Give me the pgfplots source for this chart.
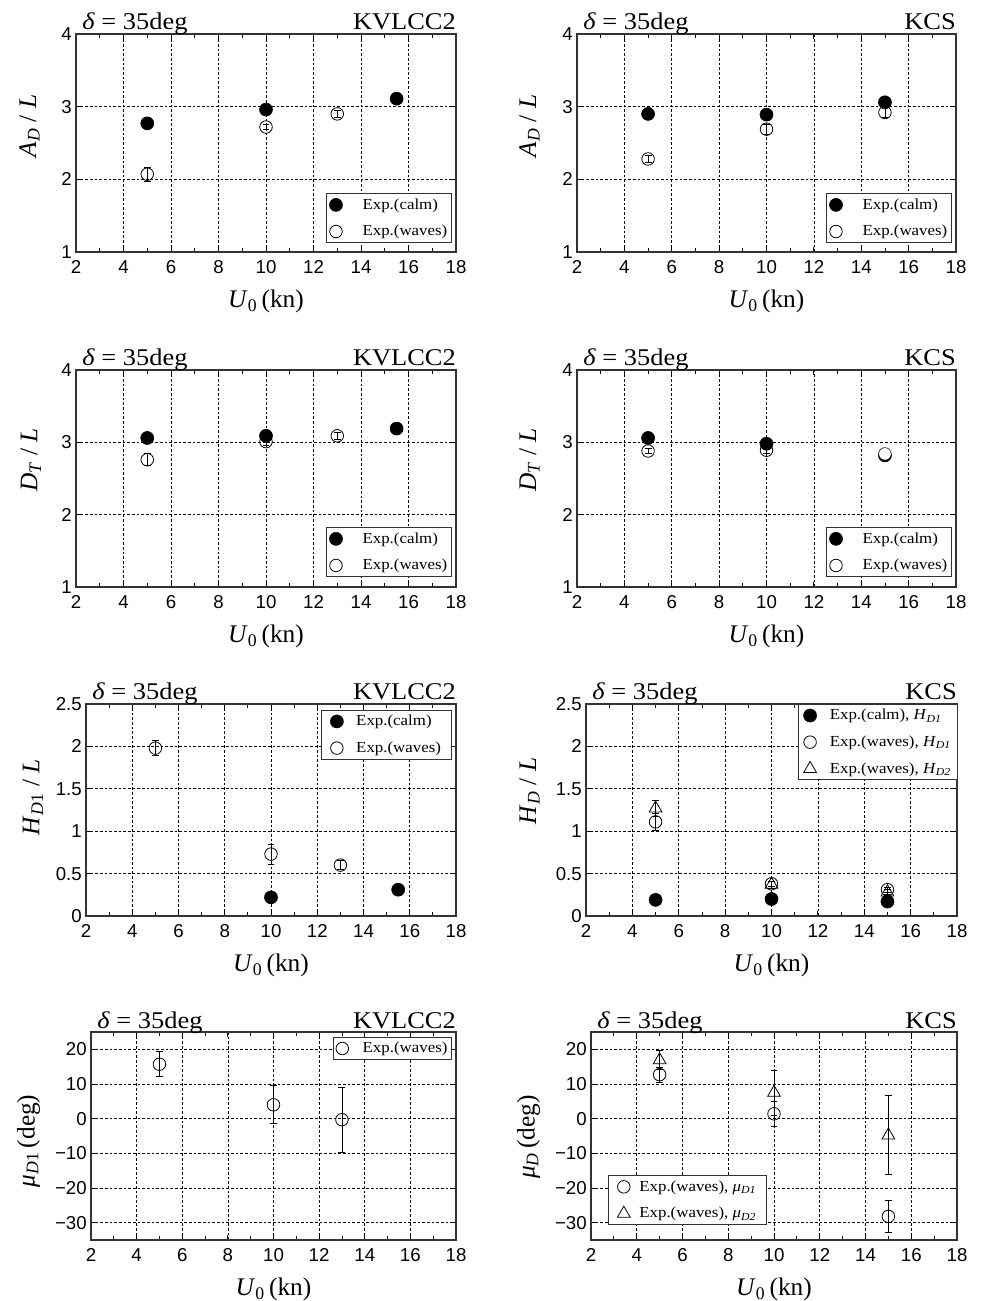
\documentclass[border=0pt]{standalone}
\usepackage{fontspec}
\setmainfont{Liberation Serif}
\setsansfont{Liberation Sans}
\newfontfamily\wideserif{Liberation Serif}[FakeStretch=1.1]
\usepackage{pgfplots}
\pgfplotsset{compat=1.18}

\newcommand\tickfont{\sffamily\fontsize{14}{16}\selectfont}
\newcommand\titfont{\wideserif\fontsize{18}{21}\selectfont}
\newcommand\labfont{\rmfamily\fontsize{19}{23}\selectfont}
\newcommand\legfont{\wideserif\fontsize{11.5}{13}\selectfont}

\pgfplotsset{
  only mark legend/.style={legend image code/.code={\draw[##1] plot coordinates {(0pt,0pt)};}},
  leg/.style n args={4}{legend style={at={(#1,#2)}, anchor=#3, inner xsep=#4}},
  panel/.style={
    scale only axis, clip=false, anchor=south west,
    xmin=2, xmax=18, xtick={2,4,...,18}, minor x tick num=1,
    grid=major, major grid style={black, line width=0.5pt, dash pattern=on 2pt off 1.5pt},
    axis line style={black!80, line width=0.9pt},
    major tick style={black, line width=0.6pt}, minor tick style={black, line width=0.6pt},
    major tick length=4pt, minor tick length=3pt,
    tick label style={font=\tickfont},
    /pgf/number format/assume math mode=true,
    xticklabel style={inner sep=0pt, yshift=-6pt},
    yticklabel style={inner sep=0pt, xshift=-3pt},
    xlabel={\textit{U}\textsubscript{0}\,(kn)},
    xlabel style={font=\labfont, at={(rel axis cs:0.5,0)}, anchor=base, inner sep=0pt, yshift=-41.5pt},
    ylabel style={font=\labfont, inner sep=0pt, anchor=south},
    legend style={font=\legfont, draw=black!80, line width=0.8pt, fill=white, inner ysep=2.5pt, row sep=8.5pt, column sep=14pt, nodes={inner sep=1pt}},
    legend cell align=left,
  },
  calm/.style={only marks, mark=*, mark size=4.9pt, mark options={draw=black, fill=black, line width=0.4pt}},
  waves/.style={only marks, mark=o, mark size=4.7pt, mark options={draw=black, line width=0.6pt}},
  tri/.style={only marks, mark=triangle, mark size=5.5pt, mark options={draw=black, line width=0.6pt}},
  ebar/.style={forget plot, only marks, mark=*, mark size=0pt, mark options={draw=none, fill=none},
    error bars/.cd, y dir=both, y explicit,
    error bar style={black, line width=0.6pt}, error mark options={rotate=90, mark size=2.6pt, draw=black, line width=0.6pt}},
}
\newcommand\titles[1]{%
  \node[anchor=base west, font=\titfont, inner sep=0pt, xshift=4.5pt, yshift=3pt] at (rel axis cs:0,1) {\textit{δ} = 35deg};
  \node[anchor=base east, font=\titfont, inner sep=0pt, yshift=3pt] at (rel axis cs:1,1) {#1};}

\begin{document}
\begin{tikzpicture}
\useasboundingbox (0,0) rectangle (735.75pt,975.75pt);

% ---------- Row 1 left
\begin{axis}[panel, at={(57pt,786.75pt)}, width=285pt, height=163.5pt,
  ymin=1, ymax=4, ytick={1,2,3,4},
  ylabel={\textit{A}\textsubscript{\textit{D}} / \textit{L}},
  ylabel style={at={(rel axis cs:0,0.578)}, yshift=27pt},
  leg={0.989}{0.041}{south east}{2pt}]
\addplot[calm] table[row sep=\\] {x y\\ 5 2.77\\ 10 2.96\\ 15.5 3.11\\};
\addplot[waves] table[row sep=\\] {x y\\ 5 2.07\\ 10 2.72\\ 13 2.90\\};
\addplot[ebar] table[row sep=\\, y error=e] {x y e\\ 5 2.07 0.10\\ 10 2.72 0.03\\ 13 2.90 0.05\\};
\legend{Exp.(calm), Exp.(waves)}
\titles{KVLCC2}
\end{axis}

% ---------- Row 1 right
\begin{axis}[panel, at={(432.75pt,786.75pt)}, width=284.25pt, height=163.5pt,
  ymin=1, ymax=4, ytick={1,2,3,4},
  ylabel={\textit{A}\textsubscript{\textit{D}} / \textit{L}},
  ylabel style={at={(rel axis cs:0,0.578)}, yshift=27.75pt},
  leg={0.989}{0.041}{south east}{2pt}]
\addplot[calm] table[row sep=\\] {x y\\ 5 2.90\\ 10 2.89\\ 15 3.06\\};
\addplot[waves] table[row sep=\\] {x y\\ 5 2.28\\ 10 2.69\\ 15 2.92\\};
\addplot[ebar] table[row sep=\\, y error=e] {x y e\\ 5 2.28 0.05\\ 10 2.69 0.07\\ 15 2.92 0.07\\};
\legend{Exp.(calm), Exp.(waves)}
\titles{KCS}
\end{axis}

% ---------- Row 2 left
\begin{axis}[panel, at={(57pt,535.5pt)}, width=285pt, height=162.75pt,
  ymin=1, ymax=4, ytick={1,2,3,4},
  ylabel={\textit{D}\textsubscript{\textit{T}} / \textit{L}},
  ylabel style={at={(rel axis cs:0,0.585)}, yshift=26pt},
  leg={0.989}{0.046}{south east}{2pt}]
\addplot[calm] table[row sep=\\] {x y\\ 5 3.06\\ 10 3.09\\ 15.5 3.19\\};
\addplot[waves] table[row sep=\\] {x y\\ 5 2.76\\ 10 3.01\\ 13 3.09\\};
\addplot[ebar] table[row sep=\\, y error=e] {x y e\\ 5 2.76 0.08\\ 10 3.01 0.05\\ 13 3.09 0.05\\};
\legend{Exp.(calm), Exp.(waves)}
\titles{KVLCC2}
\end{axis}

% ---------- Row 2 right
\begin{axis}[panel, at={(432.75pt,535.5pt)}, width=284.25pt, height=162.75pt,
  ymin=1, ymax=4, ytick={1,2,3,4},
  ylabel={\textit{D}\textsubscript{\textit{T}} / \textit{L}},
  ylabel style={at={(rel axis cs:0,0.585)}, yshift=27.75pt},
  leg={0.989}{0.046}{south east}{2pt}]
\addplot[calm] table[row sep=\\] {x y\\ 5 3.06\\ 10 2.98\\ 15 2.82\\};
\addplot[waves] table[row sep=\\] {x y\\ 5 2.88\\ 10 2.89\\};
\addplot[waves, forget plot, mark=*, mark options={fill=white}] table[row sep=\\] {x y\\ 15 2.84\\};
\addplot[ebar] table[row sep=\\, y error=e] {x y e\\ 5 2.88 0.04\\ 10 2.89 0.04\\ 15 2.84 0.02\\};
\legend{Exp.(calm), Exp.(waves)}
\titles{KCS}
\end{axis}

% ---------- Row 3 left
\begin{axis}[panel, at={(64.5pt,288.75pt)}, width=277.5pt, height=159pt,
  ymin=0, ymax=2.5, ytick={0,0.5,1,1.5,2,2.5},
  ylabel={\textit{H}\textsubscript{\textit{D}1} / \textit{L}},
  ylabel style={at={(rel axis cs:0,0.56)}, yshift=32pt},
  leg={0.989}{0.972}{north east}{6.8pt}, legend style={column sep=8.6pt}]
\addplot[calm] table[row sep=\\] {x y\\ 10 0.22\\ 15.5 0.31\\};
\addplot[waves] table[row sep=\\] {x y\\ 5 1.98\\ 10 0.73\\ 13 0.60\\};
\addplot[ebar] table[row sep=\\, y error=e] {x y e\\ 5 1.98 0.09\\ 10 0.73 0.12\\ 13 0.60 0.05\\};
\legend{Exp.(calm), Exp.(waves)}
\titles{KVLCC2}
\end{axis}

% ---------- Row 3 right
\begin{axis}[panel, at={(439.5pt,288.75pt)}, width=278.25pt, height=159pt,
  ymin=0, ymax=2.5, ytick={0,0.5,1,1.5,2,2.5},
  ylabel={\textit{H}\textsubscript{\textit{D}} / \textit{L}},
  ylabel style={at={(rel axis cs:0,0.59)}, yshift=34.5pt},
  leg={1.003}{1}{north east}{3.9pt}, legend style={column sep=8.9pt}]
\addplot[calm] table[row sep=\\] {x y\\ 5 0.19\\ 10 0.20\\ 15 0.17\\};
\addplot[waves] table[row sep=\\] {x y\\ 5 1.11\\ 10 0.38\\ 15 0.31\\};
\addplot[tri] table[row sep=\\] {x y\\ 5 1.27\\ 10 0.37\\ 15 0.28\\};
\addplot[ebar] table[row sep=\\, y error=e] {x y e\\ 5 1.11 0.10\\ 10 0.38 0.03\\ 15 0.31 0.03\\};
\addplot[ebar] table[row sep=\\, y error=e] {x y e\\ 5 1.27 0.09\\ 10 0.37 0.04\\ 15 0.28 0.03\\};
\legend{{Exp.(calm), \textit{H}\textsubscript{\textit{D1}}}, {Exp.(waves), \textit{H}\textsubscript{\textit{D1}}}, {Exp.(waves), \textit{H}\textsubscript{\textit{D2}}}}
\titles{KCS}
\end{axis}

% ---------- Row 4 left
\begin{axis}[panel, at={(68.25pt,45.75pt)}, width=273.75pt, height=156pt,
  ymin=-35, ymax=25, ytick={-30,-20,-10,0,10,20}, yticklabels={−30,−20,−10,0,10,20},
  ylabel={\textit{μ}\textsubscript{\textit{D}1}\,(deg)},
  ylabel style={at={(rel axis cs:0,0.476)}, yshift=38pt},
  leg={0.989}{0.976}{north east}{2pt}, legend style={column sep=9.6pt}]
\addplot[waves] table[row sep=\\] {x y\\ 5 15.7\\ 10 4.0\\ 13 -0.3\\};
\addplot[ebar] table[row sep=\\, y error=e] {x y e\\ 5 15.7 3.6\\ 10 4.0 5.5\\ 13 -0.3 9.4\\};
\legend{Exp.(waves)}
\titles{KVLCC2}
\end{axis}

% ---------- Row 4 right
\begin{axis}[panel, at={(443.25pt,45.75pt)}, width=274.5pt, height=156pt,
  ymin=-35, ymax=25, ytick={-30,-20,-10,0,10,20}, yticklabels={−30,−20,−10,0,10,20},
  ylabel={\textit{μ}\textsubscript{\textit{D}}\,(deg)},
  ylabel style={at={(rel axis cs:0,0.495)}, yshift=38pt},
  leg={0.046}{0.072}{south west}{6.8pt}, legend style={column sep=5.9pt}]
\addplot[waves] table[row sep=\\] {x y\\ 5 12.7\\ 10 1.4\\ 15 -28.2\\};
\addplot[tri] table[row sep=\\] {x y\\ 5 16.9\\ 10 7.5\\ 15 -4.8\\};
\addplot[ebar] table[row sep=\\, y error=e] {x y e\\ 5 12.7 2.2\\ 10 1.4 3.6\\ 15 -28.2 4.6\\};
\addplot[ebar] table[row sep=\\, y error=e] {x y e\\ 5 16.9 2.8\\ 10 7.5 6.5\\ 15 -4.8 11.4\\};
\legend{{Exp.(waves),\ \textit{μ}\textsubscript{\textit{D1}}}, {Exp.(waves),\ \textit{μ}\textsubscript{\textit{D2}}}}
\titles{KCS}
\end{axis}
\end{tikzpicture}
\end{document}
